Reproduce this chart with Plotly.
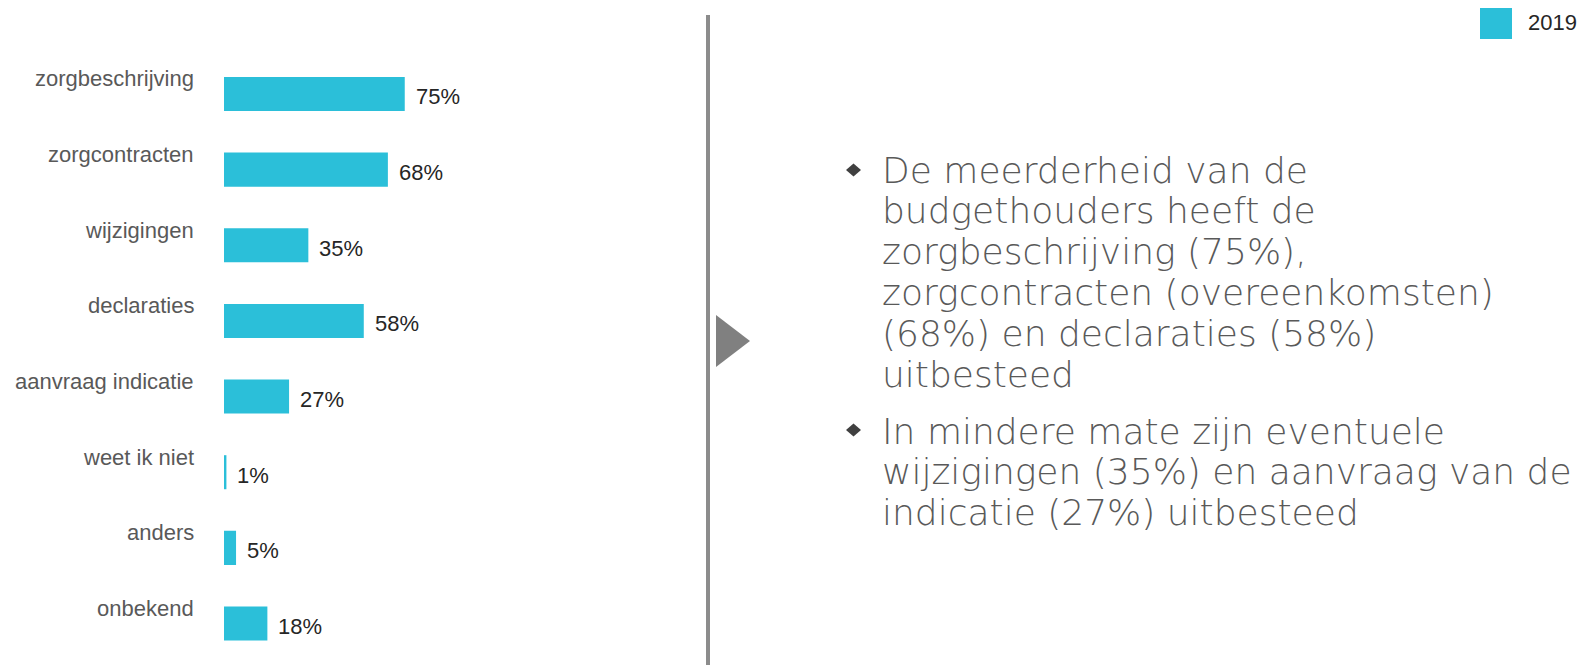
import plotly.graph_objects as go

categories = ["zorgbeschrijving", "zorgcontracten", "wijzigingen", "declaraties",
              "aanvraag indicatie", "weet ik niet", "anders", "onbekend"]
values_2019 = [75, 68, 35, 58, 27, 1, 5, 18]
series_name = "2019"
bullet_lines = [
    ["De meerderheid van de", "budgethouders heeft de", "zorgbeschrijving (75%),",
     "zorgcontracten (overeenkomsten)", "(68%) en declaraties (58%)", "uitbesteed"],
    ["In mindere mate zijn eventuele", "wijzigingen (35%) en aanvraag van de",
     "indicatie (27%) uitbesteed"],
]

# page body has an 8px margin: figure is drawn at (8, 8)
OFF = 8
W, H = 1596 - OFF, 665 - OFF
BAR = "#2BBFD9"

def px(x):
    return (x - OFF) / W

def py(y):
    return 1 - (y - OFF) / H

fig = go.Figure()
fig.add_trace(go.Bar(
    y=categories, x=values_2019, orientation="h", name=series_name,
    marker=dict(color=BAR, line=dict(width=0)), width=0.45,
    showlegend=False, hoverinfo="skip",
))

step = (623.5 - 94) / 7
top = 94 - step / 2
bottom = 623.5 + step / 2

annotations = []
for c, v in zip(categories, values_2019):
    annotations.append(dict(
        x=px(196), xref="paper", y=c, yref="y", text=c, showarrow=False,
        xanchor="right", yanchor="middle", yshift=15,
        font=dict(family="Liberation Sans, Arial", size=22, color="#595959"),
    ))
    annotations.append(dict(
        x=v, xref="x", y=c, yref="y", text=f"{v}%", showarrow=False,
        xanchor="left", yanchor="middle", xshift=9, yshift=-3,
        font=dict(family="Liberation Sans, Arial", size=22, color="#262626"),
    ))

# legend
annotations.append(dict(
    x=px(1526), xref="paper", y=py(23), yref="paper", text=series_name,
    showarrow=False, xanchor="left", yanchor="middle",
    font=dict(family="Liberation Sans, Arial", size=22, color="#262626"),
))

block_first_center = [170, 431]
line_step = 40.8
for lines, y0 in zip(bullet_lines, block_first_center):
    for i, t in enumerate(lines):
        annotations.append(dict(
            x=px(880), xref="paper", y=py(y0 + i * line_step), yref="paper", text=t,
            showarrow=False, xanchor="left", yanchor="middle", align="left",
            font=dict(family="DejaVu Sans", size=36, color="#595959", weight=200),
        ))

shapes = [
    dict(type="line", xref="paper", yref="paper", x0=px(708), x1=px(708),
         y0=py(15), y1=py(665), line=dict(color="#8C8C8C", width=4)),
    dict(type="path", xref="paper", yref="paper",
         path=f"M {px(716)},{py(315)} L {px(750)},{py(341)} L {px(716)},{py(367)} Z",
         fillcolor="#808080", line=dict(width=0)),
    dict(type="rect", xref="paper", yref="paper", x0=px(1480), x1=px(1512),
         y0=py(39), y1=py(7), fillcolor=BAR, line=dict(width=0)),
]
for yc in [170, 430]:
    xc = 853.5
    shapes.append(dict(
        type="path", xref="paper", yref="paper",
        path=(f"M {px(xc-7.5)},{py(yc)} L {px(xc)},{py(yc-6.5)} "
              f"L {px(xc+7.5)},{py(yc)} L {px(xc)},{py(yc+6.5)} Z"),
        fillcolor="#404040", line=dict(width=0)))

fig.update_layout(
    width=W, height=H, margin=dict(l=0, r=0, t=0, b=0),
    paper_bgcolor="white", plot_bgcolor="white",
    xaxis=dict(domain=[px(224), px(224 + 241)], range=[0, 100], visible=False, fixedrange=True),
    yaxis=dict(domain=[py(bottom), py(top)], range=[7.5, -0.5], visible=False,
               categoryorder="array", categoryarray=categories, fixedrange=True),
    annotations=annotations, shapes=shapes, bargap=0.55,
)

fig.write_html("out.html", config={"displayModeBar": False})
